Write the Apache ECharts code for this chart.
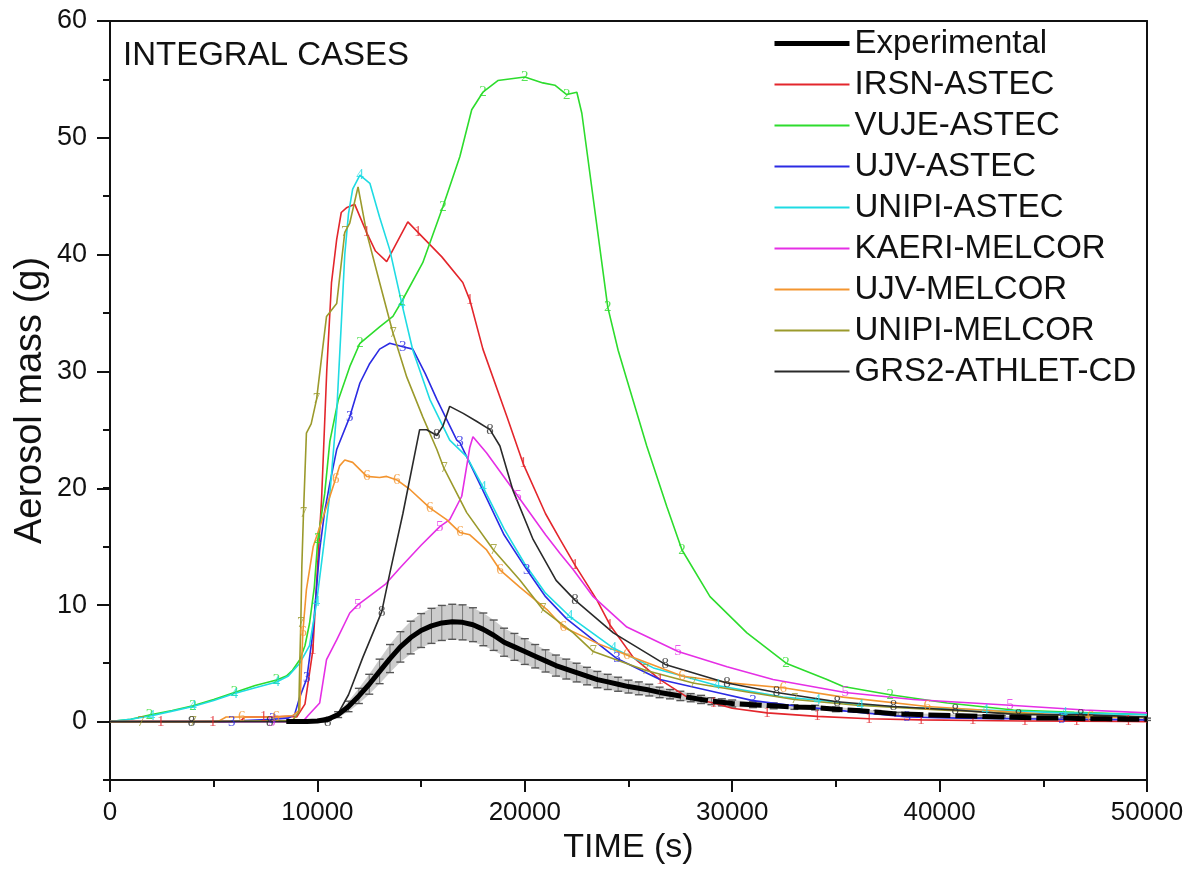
<!DOCTYPE html>
<html>
<head>
<meta charset="utf-8">
<script src="https://cdn.jsdelivr.net/npm/echarts@6/dist/echarts.min.js"></script>
<style>
  html, body { margin: 0; padding: 0; background: #ffffff; }
  #chart { width: 1197px; height: 870px; }
</style>
</head>
<body>
<div id="chart"></div>
<script>
// Measured aerosol mass: time (s), mass (g) and half-width of the error bar (g)
const expTime = [8500, 9000, 9500, 10000, 10500, 11000, 11500, 12000, 12500, 13000, 13500, 14000, 14500, 15000, 15500,
  16000, 16500, 17000, 17500, 18000, 18500, 19000, 19500, 20000, 20500, 21000, 21500, 22000, 22500, 23000, 23500,
  24000, 24500, 25000, 25500, 26000, 26500, 27000, 27500, 28000, 28500, 29000, 29500, 30000,
  31000, 32000, 33000, 34000, 35000, 36000, 37000, 38000, 39000, 40000, 41000, 42000, 43000, 44000, 45000,
  46000, 47000, 48000, 49000, 50000];
const expMass = [0, 0, 0, 0.05, 0.2, 0.6, 1.3, 2.2, 3.2, 4.3, 5.4, 6.4, 7.2, 7.8, 8.2,
  8.45, 8.55, 8.5, 8.3, 7.9, 7.4, 6.8, 6.4, 6.0, 5.6, 5.2, 4.8, 4.5, 4.2, 3.9, 3.6,
  3.4, 3.2, 3.0, 2.85, 2.7, 2.5, 2.35, 2.2, 2.05, 1.9, 1.75, 1.65, 1.55,
  1.45, 1.35, 1.25, 1.2, 1.05, 0.95, 0.8, 0.65, 0.6, 0.55, 0.5, 0.45, 0.4, 0.35, 0.3,
  0.3, 0.25, 0.25, 0.2, 0.2];
const expErr = [0, 0, 0, 0.05, 0.1, 0.25, 0.45, 0.65, 0.85, 1.05, 1.2, 1.3, 1.4, 1.45, 1.5,
  1.5, 1.5, 1.5, 1.45, 1.4, 1.3, 1.2, 1.15, 1.1, 1.0, 0.95, 0.9, 0.85, 0.8, 0.75, 0.7,
  0.65, 0.6, 0.55, 0.55, 0.5, 0.45, 0.4, 0.4, 0.35, 0.35, 0.3, 0.3, 0.3,
  0.25, 0.25, 0.2, 0.2, 0.2, 0.15, 0.15, 0.15, 0.1, 0.1, 0.1, 0.1, 0.1, 0.1, 0.1,
  0.1, 0.1, 0.1, 0.1, 0.1];
// time from which the measured curve is drawn dashed
const expDashFrom = 26500;

// Code results: [time (s), mass (g)]
const irsnAstec = [[0,0],[2450,0],[4950,0],[6300,0.05],[6500,0.4],[7400,0.4],[8600,0.45],[9000,0.4],[9400,1.5],
  [9780,6.1],[10030,14],[10200,19],[10450,30],[10680,37.6],[10930,41.3],[11150,43.6],[11400,44.0],[11800,44.3],
  [12370,41.9],[12800,40.3],[13340,39.4],[14360,42.8],[14850,41.9],[16000,39.8],[17010,37.6],[17350,36.1],
  [17980,31.9],[19140,26.1],[19920,22.1],[21000,17.8],[21700,15.6],[22420,13.4],[23480,10.4],[24100,8.3],
  [25230,5.5],[26520,3.6],[27830,2.1],[29100,1.6],[30000,1.15],[31680,0.75],[34100,0.45],[36600,0.25],
  [39100,0.15],[41600,0.1],[44100,0.05],[46600,0.04],[49100,0.02],[50000,0]];
const irsnAstecMarks = [2450,4950,7400,9780,12370,14850,17350,19920,22420,24100,26520,29100,31680,34100,36600,39100,41600,44100,46600,49100];

const vujeAstec = [[0,0],[1000,0.2],[1900,0.57],[3000,0.95],[4000,1.35],[5000,1.9],[6000,2.5],[7000,3.1],[8030,3.57],
  [8500,3.9],[8800,4.4],[9150,5.3],[9400,6.5],[9620,8.4],[9850,11.5],[10020,15.6],[10350,19.5],[10600,24.0],
  [11000,27.5],[11560,30.4],[12050,32.4],[13000,33.8],[13640,34.7],[14070,36.0],[15080,39.3],[16050,44.1],
  [16870,48.4],[17440,52.4],[17980,53.9],[18700,54.9],[20000,55.2],[20870,54.7],[21450,54.5],[22020,53.7],
  [22510,53.9],[22750,52.1],[24000,35.5],[24500,31.8],[24920,29.3],[25880,23.6],[26850,18.4],[27580,14.7],
  [28930,10.7],[30710,7.6],[32600,5.0],[34570,3.6],[35350,3.0],[37620,2.3],[40370,1.6],[43560,1.0],
  [46500,0.8],[50000,0.6]];
const vujeAstecMarks = [1900,4000,6000,8030,10020,12050,14070,16050,17980,20000,22020,24000,27580,32600,37620];

const ujvAstec = [[0,0],[5870,0],[6500,0.1],[7850,0.2],[8600,0.3],[8900,0.6],[9150,2.1],[9490,3.7],[9780,7.6],
  [10110,14.7],[10350,18.0],[10600,20.4],[10930,23.3],[11560,26.1],[12050,29.0],[12500,30.6],[13000,31.9],
  [13490,32.4],[14120,32.1],[14600,31.9],[15200,29.8],[15760,27.6],[16720,24.1],[16870,23.9],[17980,19.8],
  [19000,16.0],[20100,13.0],[21000,10.7],[22020,8.8],[22660,7.9],[24440,5.4],[26520,3.6],[29270,2.5],
  [31000,1.8],[33280,1.3],[35500,0.9],[38440,0.4],[41000,0.3],[45900,0.2],[50000,0.15]];
const ujvAstecMarks = [5870,7850,9490,11560,14120,16870,20100,24440,31000,38440,45900];

const unipiAstec = [[0,0],[1000,0.2],[2000,0.5],[3000,0.9],[4000,1.3],[5000,1.8],[6000,2.4],[7000,2.9],[8030,3.4],
  [8600,3.9],[9150,5.0],[9620,6.5],[9960,10.2],[10300,15.0],[10600,19.5],[10930,26.5],[11150,34.0],[11320,40.0],
  [11500,43.5],[11700,45.6],[12050,46.8],[12530,46.1],[13000,43.2],[13490,40.4],[14070,35.8],[14600,31.8],
  [15420,27.6],[16380,24.1],[17200,22.7],[17980,20.1],[19000,16.5],[20000,13.5],[21000,11.0],[22170,9.0],
  [24270,6.3],[26200,4.6],[29270,3.1],[32460,2.1],[34100,1.85],[36170,1.45],[38500,1.2],[42200,1.0],
  [46000,0.75],[50000,0.6]];
const unipiAstecMarks = [2000,4000,6000,8030,9960,12050,14070,17980,22170,24270,29270,34100,36170,42200,46000];

const kaeriMelcor = [[0,0],[7800,0],[9300,0],[9540,0.5],[10110,1.6],[10440,5.3],[10930,7.0],[11560,9.3],[11950,10.0],
  [13300,11.8],[14000,13.2],[15000,15.1],[15900,16.7],[16380,17.3],[16960,19.3],[17350,23.5],[17500,24.4],
  [18160,23.0],[19670,19.3],[21000,16.0],[21700,14.4],[22340,13.0],[23300,10.7],[24920,8.1],[27390,6.0],
  [29750,4.7],[31970,3.6],[35450,2.5],[38730,1.9],[43400,1.4],[47000,1.0],[50000,0.75]];
const kaeriMelcorMarks = [7800,11950,15900,19670,27390,35450,43400];

const ujvMelcor = [[0,0],[5200,0],[5600,0.4],[6350,0.4],[8000,0.4],[8800,0.5],[9150,1.0],[9300,7.7],[9470,11.3],
  [9800,15.0],[10440,18.4],[10880,20.8],[11070,21.9],[11320,22.4],[11700,22.2],[12380,21.0],[13000,20.9],
  [13340,21.0],[13830,20.7],[14450,19.9],[15420,18.3],[16230,17.3],[16870,16.2],[17350,16.0],[18160,14.7],
  [18800,13.0],[19770,11.5],[21070,9.6],[21850,8.1],[23500,6.7],[24920,5.7],[27580,3.9],[30000,3.3],
  [32460,2.9],[35350,2.1],[39400,1.3],[42000,1.0],[47270,0.4],[50000,0.35]];
const ujvMelcorMarks = [6350,8000,9300,10880,12380,13830,15420,16870,18800,21850,24920,27580,32460,39400,47270];

const unipiMelcor = [[0,0],[1500,0],[4000,0],[8800,0.1],[9100,0.8],[9150,5.0],[9200,8.4],[9250,13.3],[9330,17.9],
  [9470,24.7],[9700,25.5],[9960,27.6],[10250,31.9],[10440,34.7],[10930,35.8],[11320,41.9],[11560,42.7],
  [11960,45.8],[12370,41.9],[13000,37.6],[13640,33.3],[14310,29.5],[15080,26.1],[15760,23.3],[16100,21.7],
  [17200,17.9],[18490,14.7],[19770,12.1],[20870,9.6],[22340,7.6],[23300,6.0],[25810,4.4],[28110,3.3],
  [30870,2.5],[33000,1.9],[36000,1.4],[40000,1.0],[45000,0.6],[50000,0.4]];
const unipiMelcorMarks = [1500,4000,9200,9330,9960,11320,13640,16100,18490,20870,23300,25810,28110,33000];

const grs2Athlet = [[0,0],[3930,0],[7700,0],[10500,0],[11000,0.7],[11500,2.3],[12190,5.5],[13100,9.4],[13490,12.7],
  [14120,17.8],[14930,25.0],[15270,25.0],[15760,24.5],[16050,25.3],[16380,27.0],[17030,26.4],[17690,25.7],
  [18320,25.0],[18800,23.6],[19430,19.8],[20400,15.6],[21510,12.1],[22420,10.4],[24270,7.6],[26770,4.9],
  [29750,3.3],[32140,2.5],[35060,1.7],[37780,1.3],[40750,1.0],[43800,0.6],[46800,0.6],[50000,0.4]];
const grs2AthletMarks = [3930,7700,10500,13100,15760,18320,22420,26770,29750,32140,35060,37780,40750,43800,46800];

const models = [
  { name: 'IRSN-ASTEC',    digit: '1', color: '#e3262c', data: irsnAstec,   marks: irsnAstecMarks },
  { name: 'VUJE-ASTEC',    digit: '2', color: '#2ddc2d', data: vujeAstec,   marks: vujeAstecMarks },
  { name: 'UJV-ASTEC',     digit: '3', color: '#2b2be3', data: ujvAstec,    marks: ujvAstecMarks },
  { name: 'UNIPI-ASTEC',   digit: '4', color: '#1fdbe3', data: unipiAstec,  marks: unipiAstecMarks },
  { name: 'KAERI-MELCOR',  digit: '5', color: '#e52fe5', data: kaeriMelcor, marks: kaeriMelcorMarks },
  { name: 'UJV-MELCOR',    digit: '6', color: '#f39530', data: ujvMelcor,   marks: ujvMelcorMarks },
  { name: 'UNIPI-MELCOR',  digit: '7', color: '#9b9a2c', data: unipiMelcor, marks: unipiMelcorMarks },
  { name: 'GRS2-ATHLET-CD',digit: '8', color: '#2a2a2a', data: grs2Athlet,  marks: grs2AthletMarks }
];

const FONT = 'Liberation Sans, Arial, sans-serif';
const X_MIN = 0, X_MAX = 50000, X_STEP = 10000;
const Y_MIN = -5, Y_MAX = 60;

const chart = echarts.init(document.getElementById('chart'), null, { renderer: 'canvas' });

const expPoints = expTime.map((t, i) => [t, expMass[i]]);
const expSolid = expPoints.filter(p => p[0] <= expDashFrom);
const expDashed = expPoints.filter(p => p[0] >= expDashFrom);
const expBars = expTime.map((t, i) => [t, expMass[i] - expErr[i], expMass[i] + expErr[i]]);

// error bars of the measurement: shaded band between neighbours, vertical bar and caps
function renderErrorBar(params, api) {
  const i = params.dataIndex;
  const t = api.value(0);
  const lo = api.coord([t, api.value(1)]);
  const hi = api.coord([t, api.value(2)]);
  const children = [];
  if (i + 1 < expBars.length) {
    const n = expBars[i + 1];
    const nlo = api.coord([n[0], n[1]]);
    const nhi = api.coord([n[0], n[2]]);
    children.push({
      type: 'polygon',
      shape: { points: [hi, nhi, nlo, lo] },
      style: { fill: 'rgba(100,100,100,0.33)', stroke: null }
    });
  }
  if (hi[1] < lo[1] - 0.5) {
    children.push({
      type: 'line', shape: { x1: lo[0], y1: lo[1], x2: hi[0], y2: hi[1] },
      style: { stroke: '#777', lineWidth: 1 }
    });
    children.push({
      type: 'line', shape: { x1: lo[0] - 4, y1: lo[1], x2: lo[0] + 4, y2: lo[1] },
      style: { stroke: '#555', lineWidth: 1.4 }
    });
    children.push({
      type: 'line', shape: { x1: hi[0] - 4, y1: hi[1], x2: hi[0] + 4, y2: hi[1] },
      style: { stroke: '#555', lineWidth: 1.4 }
    });
  }
  return { type: 'group', children };
}

const series = [];

series.push({
  name: 'Experimental error',
  type: 'custom',
  xAxisIndex: 0, yAxisIndex: 0,
  renderItem: renderErrorBar,
  data: expBars,
  encode: { x: 0, y: [1, 2] },
  silent: true,
  z: 1
});

models.forEach(m => {
  series.push({
    name: m.name,
    type: 'line',
    xAxisIndex: 0, yAxisIndex: 0,
    data: m.data,
    symbol: 'none',
    lineStyle: { color: m.color, width: 1.6 },
    itemStyle: { color: m.color },
    z: 3,
    animation: false
  });
  series.push({
    name: m.name + ' #',
    type: 'scatter',
    xAxisIndex: 0, yAxisIndex: 0,
    data: m.data.filter(p => m.marks.includes(p[0])),
    symbol: 'circle',
    symbolSize: 1,
    itemStyle: { color: 'rgba(0,0,0,0)' },
    label: {
      show: true, position: 'inside', formatter: m.digit,
      color: m.color, fontSize: 15, fontFamily: 'Liberation Serif, serif'
    },
    silent: true,
    z: 4,
    animation: false
  });
});

series.push({
  name: 'Experimental',
  type: 'line',
  xAxisIndex: 0, yAxisIndex: 0,
  data: expSolid,
  symbol: 'none',
  lineStyle: { color: '#000', width: 5 },
  itemStyle: { color: '#000' },
  z: 5,
  animation: false
});
series.push({
  name: 'Experimental',
  type: 'line',
  xAxisIndex: 0, yAxisIndex: 0,
  data: expDashed,
  symbol: 'none',
  lineStyle: { color: '#000', width: 5, type: [22, 5] },
  itemStyle: { color: '#000' },
  z: 5,
  animation: false
});

const option = {
  backgroundColor: '#ffffff',
  animation: false,
  textStyle: { fontFamily: FONT },
  grid: [
    { left: 110, right: 50, top: 21, bottom: 90, containLabel: false },
    // grid used only for the long major ticks and labels of the mass axis (0 ... 60)
    { left: 110, right: 50, top: 21, bottom: 148, containLabel: false }
  ],
  xAxis: [
    {
      type: 'value', gridIndex: 0, min: X_MIN, max: X_MAX, interval: X_STEP,
      name: 'TIME (s)', nameLocation: 'middle', nameGap: 50,
      nameTextStyle: { fontSize: 34, color: '#111', fontFamily: FONT },
      axisLine: { show: true, onZero: false, lineStyle: { color: '#111', width: 2 } },
      axisTick: { show: true, inside: false, length: 12, lineStyle: { color: '#111', width: 2 } },
      minorTick: { show: true, splitNumber: 2, length: 7, lineStyle: { color: '#111', width: 2 } },
      axisLabel: { fontSize: 26, color: '#111', margin: 20, fontFamily: FONT, formatter: v => String(v) },
      splitLine: { show: false }
    },
    {
      type: 'value', gridIndex: 0, position: 'top', min: X_MIN, max: X_MAX, interval: X_STEP,
      axisLine: { show: true, onZero: false, lineStyle: { color: '#111', width: 2 } },
      axisTick: { show: false }, axisLabel: { show: false }, splitLine: { show: false }
    },
    {
      type: 'value', gridIndex: 1, min: X_MIN, max: X_MAX, show: false
    }
  ],
  yAxis: [
    {
      type: 'value', gridIndex: 0, min: Y_MIN, max: Y_MAX, interval: 5,
      name: 'Aerosol mass (g)', nameLocation: 'middle', nameGap: 60, nameRotate: 90,
      nameTextStyle: { fontSize: 38, color: '#111', fontFamily: FONT },
      axisLine: { show: true, onZero: false, lineStyle: { color: '#111', width: 2 } },
      axisTick: { show: true, inside: false, length: 7, lineStyle: { color: '#111', width: 2 } },
      axisLabel: { show: false },
      splitLine: { show: false }
    },
    {
      type: 'value', gridIndex: 0, position: 'right', min: Y_MIN, max: Y_MAX, interval: 5,
      axisLine: { show: true, onZero: false, lineStyle: { color: '#111', width: 2 } },
      axisTick: { show: false }, axisLabel: { show: false }, splitLine: { show: false }
    },
    {
      type: 'value', gridIndex: 1, min: 0, max: 60, interval: 10,
      axisLine: { show: false },
      axisTick: { show: true, inside: false, length: 13, lineStyle: { color: '#111', width: 2 } },
      axisLabel: { fontSize: 27, color: '#111', margin: 23, fontFamily: FONT },
      splitLine: { show: false }
    }
  ],
  legend: {
    orient: 'vertical',
    left: 767, top: 22,
    itemWidth: 75, itemHeight: 14, itemGap: 8,
    data: [{ name: 'Experimental', lineStyle: { width: 5, color: '#000' } }].concat(models.map(m => m.name)),
    itemStyle: { opacity: 0 },
    textStyle: { fontSize: 33, lineHeight: 31, color: '#111', fontFamily: FONT },
    selectedMode: false
  },
  graphic: [
    {
      type: 'text', left: 123, top: 39,
      style: { text: 'INTEGRAL CASES', fontSize: 33, fill: '#111', fontFamily: FONT }
    }
  ],
  series
};

chart.setOption(option);
</script>
</body>
</html>
